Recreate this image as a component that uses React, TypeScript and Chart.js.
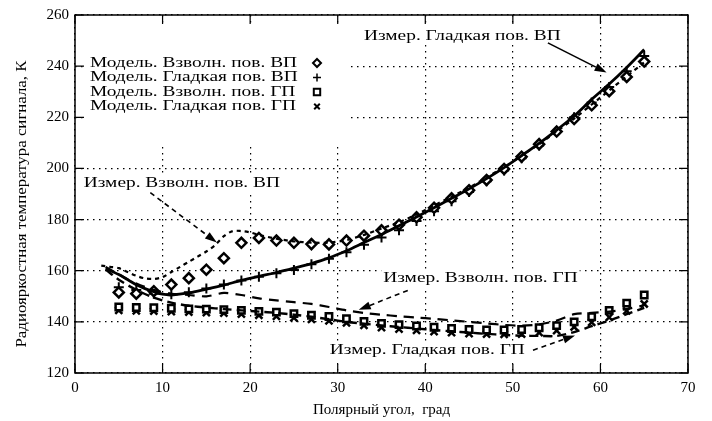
import React, { useEffect, useRef } from 'react';
import { Chart, registerables } from 'chart.js';

Chart.register(...registerables);

const FONT = '"Liberation Serif", "Times New Roman", serif';

// ---------- data ----------
const modelX = [5, 7, 9, 11, 13, 15, 17, 19, 21, 23, 25, 27, 29, 31, 33, 35, 37, 39, 41, 43, 45, 47, 49, 51, 53, 55, 57, 59, 61, 63, 65];
const modelRoughVP = [151.5, 151, 152, 154.6, 157.1, 160.4, 164.9, 170.9, 172.8, 171.8, 170.9, 170.4, 170.3, 171.8, 173.7, 175.8, 178, 180.9, 184.6, 188.3, 191.5, 195.5, 199.8, 204.6, 209.5, 214.4, 219.3, 224.7, 230.2, 235.8, 241.8];
const modelSmoothVP = [153.5, 152.5, 151, 150.8, 151.6, 153, 154.6, 156.2, 157.6, 159, 160.3, 162.5, 164.7, 167.2, 170.2, 173, 175.8, 179.4, 183.3, 187.2, 190.8, 195, 199.2, 204, 209, 214.5, 220, 225.8, 231.8, 238, 244];
const modelRoughGP = [145.8, 145.6, 145.5, 145.3, 145.1, 145, 144.8, 144.5, 144.1, 143.8, 143.2, 142.6, 142.1, 141.2, 140.2, 139.4, 138.9, 138.4, 137.9, 137.4, 137, 136.8, 136.8, 137, 137.7, 138.5, 140, 142, 144.5, 147.3, 150.5];
const modelSmoothGP = [144.5, 144.3, 144.2, 144, 143.8, 143.6, 143.4, 143, 142.6, 142.2, 141.6, 141, 140.4, 139.6, 138.6, 137.8, 137.2, 136.7, 136.2, 135.8, 135.4, 135.2, 135.1, 135.2, 135.8, 136.6, 138, 139.8, 141.8, 144.3, 147];

const measRoughVPx = [3, 4, 5, 6, 7, 8, 9, 10, 11, 12, 13, 14, 15, 16, 17, 18, 19, 20, 21, 23, 25, 27, 29, 31, 33, 35, 37, 39, 41, 43, 45, 47, 49, 51, 53, 55, 57, 59, 61, 63, 65];
const measRoughVPy = [162, 161.5, 161, 159.5, 158, 157, 156.8, 157.5, 159.5, 161.5, 163.5, 165.5, 167.5, 170, 173.5, 175.5, 175.5, 175, 174, 172.5, 171.5, 171, 171, 172, 174, 176.5, 179, 182, 185.5, 189, 192.5, 196.5, 200.5, 205, 209.5, 214.5, 219.5, 225, 230.5, 236, 241.5];

const measSmoothVPx = [3.5, 5, 6, 7, 8, 9, 10, 11, 13, 15, 17, 19, 21, 23, 25, 27, 29, 31, 33, 35, 37, 39, 41, 43, 45, 47, 49, 51, 53, 55, 57, 59, 61, 63, 65];
const measSmoothVPy = [161, 158.5, 156.5, 154.5, 153, 151.8, 150.8, 150.5, 151.3, 152.8, 154.4, 156.2, 157.8, 159.3, 161, 162.8, 165, 167.8, 171, 174.2, 177.6, 181, 184.6, 188.3, 192, 196, 200.3, 205, 209.8, 215, 220.5, 227, 233, 239.5, 246.5];

const measRoughGPx = [3.5, 5, 7, 9, 11, 13, 15, 17, 19, 21, 23, 25, 27, 29, 31, 33, 35, 37, 39, 41, 43, 45, 47, 49, 51, 53, 55, 57, 59, 61, 63, 65];
const measRoughGPy = [161.5, 158.5, 155, 152.5, 151, 150.5, 150, 151.3, 150.5, 149.2, 148.4, 147.7, 147, 145.8, 144.5, 143.5, 142.8, 142.2, 141.7, 141.2, 140.6, 140, 139.4, 138.8, 138.5, 139, 140.5, 143, 143.5, 144, 145, 146.5];

const measSmoothGPx = [3.5, 5, 7, 9, 11, 13, 15, 17, 19, 21, 23, 25, 27, 29, 31, 33, 35, 37, 39, 41, 43, 45, 47, 49, 51, 53, 55, 57, 59, 61, 63, 65];
const measSmoothGPy = [160.5, 156.5, 152.5, 149.5, 147.5, 146.3, 145.6, 145, 144.5, 144, 143.5, 142.8, 142, 141, 140, 139.3, 138.6, 138, 137.4, 136.8, 136.3, 135.8, 135.3, 134.9, 134.6, 134.5, 134.5, 136, 138.3, 140.5, 143, 145.5];

const legendLabels = ['Модель. Взволн. пов. ВП', 'Модель. Гладкая пов. ВП', 'Модель. Взволн. пов. ГП', 'Модель. Гладкая пов. ГП'];
const legendStyles = ['rectRot', 'cross', 'rect', 'crossRot'];

// annotations: text anchor (left, middle) and arrow from -> to, in data units
const annTexts = ['Измер. Гладкая пов. ВП', 'Измер. Взволн. пов. ВП', 'Измер. Взволн. пов. ГП', 'Измер. Гладкая пов. ГП'];
const annTextX = [33.0, 1.0, 35.2, 29.1];
const annTextY = [251.8, 194.4, 157.0, 128.9];
const annFromX = [54.0, 8.6, 38.0, 52.3];
const annFromY = [249.1, 190.5, 152.3, 128.9];
const annToX = [60.7, 16.2, 32.4, 57.1];
const annToY = [237.5, 171.0, 144.7, 134.7];
const annDashed = [false, true, true, true];

const xTitle = 'Полярный угол,  град';
const yTitle = 'Радиояркостная температура сигнала, К';

const zip = (xs: number[], ys: number[]) => xs.map((x, i) => ({ x, y: ys[i] }));

function stretchedText(ctx: CanvasRenderingContext2D, text: string, x: number, y: number, s: number) {
  ctx.save();
  ctx.translate(x, y);
  ctx.scale(s, 1);
  ctx.fillText(text, 0, 0);
  ctx.restore();
}

function drawMarker(ctx: CanvasRenderingContext2D, style: string, cx: number, cy: number, r: number) {
  ctx.save();
  ctx.strokeStyle = '#000';
  ctx.fillStyle = '#fff';
  ctx.lineWidth = 2;
  ctx.beginPath();
  if (style === 'rectRot') {
    ctx.moveTo(cx, cy - r); ctx.lineTo(cx + r, cy); ctx.lineTo(cx, cy + r); ctx.lineTo(cx - r, cy); ctx.closePath();
    ctx.fill(); ctx.stroke();
  } else if (style === 'rect') {
    ctx.rect(cx - r * 0.8, cy - r * 0.8, r * 1.6, r * 1.6);
    ctx.fill(); ctx.stroke();
  } else if (style === 'cross') {
    ctx.lineWidth = 1.5;
    ctx.moveTo(cx - r, cy); ctx.lineTo(cx + r, cy); ctx.moveTo(cx, cy - r); ctx.lineTo(cx, cy + r);
    ctx.stroke();
  } else {
    ctx.moveTo(cx - r * 0.7, cy - r * 0.7); ctx.lineTo(cx + r * 0.7, cy + r * 0.7);
    ctx.moveTo(cx + r * 0.7, cy - r * 0.7); ctx.lineTo(cx - r * 0.7, cy + r * 0.7);
    ctx.stroke();
  }
  ctx.restore();
}

const decor = {
  id: 'decor',
  beforeDatasetsDraw(chart: any) {
    const { ctx, chartArea: ca, scales } = chart;
    const xs = scales.x, ys = scales.y;
    ctx.save();
    ctx.font = `15px ${FONT}`;
    const s = 195 / ctx.measureText('Измер. Гладкая пов. ГП').width;
    // y axis title (stretched along its direction)
    ctx.save();
    ctx.fillStyle = '#000';
    ctx.textAlign = 'center';
    ctx.textBaseline = 'middle';
    ctx.translate(22, (ca.top + ca.bottom) / 2 + 10);
    ctx.rotate(-Math.PI / 2);
    ctx.scale(287 / ctx.measureText(yTitle).width, 1);
    ctx.fillText(yTitle, 0, 0);
    ctx.restore();
    // legend box (hides grid)
    ctx.fillStyle = '#fff';
    ctx.fillRect(ca.left + 12, ca.top + 11, 260, 117);
    ctx.textBaseline = 'middle';
    ctx.textAlign = 'left';
    ctx.fillStyle = '#000';
    legendLabels.forEach((t, i) => {
      const yy = ca.top + 48 + i * 14.5;
      stretchedText(ctx, t, ca.left + 15, yy, s);
      drawMarker(ctx, legendStyles[i], ca.left + 242, yy, 4);
    });
    // annotation texts with white background
    annTexts.forEach((t, i) => {
      const px = xs.getPixelForValue(annTextX[i]);
      const py = ys.getPixelForValue(annTextY[i]);
      const w = ctx.measureText(t).width * s;
      ctx.fillStyle = '#fff';
      ctx.fillRect(px - 2, py - 9, w + 4, 18);
      ctx.fillStyle = '#000';
      stretchedText(ctx, t, px, py, s);
    });
    ctx.restore();
  },
  afterDatasetsDraw(chart: any) {
    const { ctx, scales } = chart;
    const xs = scales.x, ys = scales.y;
    ctx.save();
    annTexts.forEach((_, i) => {
      const x1 = xs.getPixelForValue(annFromX[i]);
      const y1 = ys.getPixelForValue(annFromY[i]);
      const x2 = xs.getPixelForValue(annToX[i]);
      const y2 = ys.getPixelForValue(annToY[i]);
      const ang = Math.atan2(y2 - y1, x2 - x1);
      const hl = 12, hw = 4;
      const bx = x2 - hl * Math.cos(ang), by = y2 - hl * Math.sin(ang);
      ctx.strokeStyle = '#000';
      ctx.lineWidth = 1.6;
      ctx.setLineDash(annDashed[i] ? [5, 4] : []);
      ctx.beginPath();
      ctx.moveTo(x1, y1);
      ctx.lineTo(bx, by);
      ctx.stroke();
      ctx.setLineDash([]);
      ctx.fillStyle = '#000';
      ctx.beginPath();
      ctx.moveTo(x2, y2);
      ctx.lineTo(bx + hw * Math.sin(ang), by - hw * Math.cos(ang));
      ctx.lineTo(bx - hw * Math.sin(ang), by + hw * Math.cos(ang));
      ctx.closePath();
      ctx.fill();
    });
    ctx.restore();
  },
  afterDraw(chart: any) {
    const { ctx, chartArea: ca, scales } = chart;
    ctx.save();
    ctx.strokeStyle = '#000';
    ctx.lineWidth = 1.5;
    ctx.setLineDash([]);
    ctx.strokeRect(ca.left, ca.top, ca.right - ca.left, ca.bottom - ca.top);
    ctx.lineWidth = 1.2;
    ctx.beginPath();
    scales.x.ticks.forEach((t: any) => {
      const p = scales.x.getPixelForValue(t.value);
      ctx.moveTo(p, ca.bottom); ctx.lineTo(p, ca.bottom - 9);
      ctx.moveTo(p, ca.top); ctx.lineTo(p, ca.top + 9);
    });
    scales.y.ticks.forEach((t: any) => {
      const p = scales.y.getPixelForValue(t.value);
      ctx.moveTo(ca.left, p); ctx.lineTo(ca.left + 9, p);
      ctx.moveTo(ca.right, p); ctx.lineTo(ca.right - 9, p);
    });
    ctx.stroke();
    ctx.restore();
  },
};

export default function App() {
  const ref = useRef<HTMLCanvasElement>(null);
  useEffect(() => {
    const canvas = ref.current!;
    const markerDs = (label: string, ys: number[], style: string, radius: number, bw: number) => ({
      label,
      data: zip(modelX, ys),
      showLine: false,
      pointStyle: style,
      pointRadius: radius,
      pointBorderWidth: bw,
      pointBackgroundColor: '#fff',
      pointBorderColor: '#000',
      borderColor: '#000',
      backgroundColor: '#fff',
    });
    const lineDs = (label: string, xs: number[], ys: number[], dash: number[], width: number) => ({
      label,
      data: zip(xs, ys),
      showLine: true,
      pointRadius: 0,
      borderColor: '#000',
      borderWidth: width,
      borderDash: dash,
      tension: 0.3,
      fill: false,
    });
    const chart = new Chart(canvas, {
      type: 'scatter',
      data: {
        datasets: [
          lineDs('Измер. Гладкая пов. ВП', measSmoothVPx, measSmoothVPy, [], 2.8),
          lineDs('Измер. Взволн. пов. ВП', measRoughVPx, measRoughVPy, [4, 4], 2.2),
          lineDs('Измер. Взволн. пов. ГП', measRoughGPx, measRoughGPy, [10, 7], 2.2),
          lineDs('Измер. Гладкая пов. ГП', measSmoothGPx, measSmoothGPy, [9, 5], 2.4),
          markerDs(legendLabels[0], modelRoughVP, 'rectRot', 5, 2.5),
          markerDs(legendLabels[1], modelSmoothVP, 'cross', 5, 2),
          markerDs(legendLabels[2], modelRoughGP, 'rect', 4.5, 2.5),
          markerDs(legendLabels[3], modelSmoothGP, 'crossRot', 5, 2.5),
        ] as any,
      },
      options: {
        animation: false,
        responsive: false,
        devicePixelRatio: 1,
        layout: { padding: { left: 0, top: 14, right: 24, bottom: 0 } },
        plugins: { legend: { display: false }, tooltip: { enabled: false } },
        scales: {
          x: {
            type: 'linear',
            min: 0,
            max: 70,
            afterFit: (s: any) => { s.height = 48; },
            ticks: { stepSize: 10, color: '#000', font: { family: FONT, size: 15 }, padding: 6 },
            grid: { color: '#000', lineWidth: 1.2, drawTicks: false },
            border: { display: false, dash: [1.5, 4.5] },
            title: { display: true, text: xTitle, color: '#000', font: { family: FONT, size: 15 }, padding: { top: 0, bottom: 2 } },
          },
          y: {
            type: 'linear',
            min: 120,
            max: 260,
            afterFit: (s: any) => { s.width = 75; },
            ticks: { stepSize: 20, color: '#000', font: { family: FONT, size: 15 }, padding: 6 },
            grid: { color: '#000', lineWidth: 1.2, drawTicks: false },
            border: { display: false, dash: [1.5, 4.5] },
            title: { display: false },
          },
        },
      },
      plugins: [decor],
    } as any);
    return () => chart.destroy();
  }, []);
  return (
    <div style={{ position: 'fixed', left: 0, top: 0, width: 712, height: 421, background: '#fff' }}>
      <canvas ref={ref} width={712} height={421} />
    </div>
  );
}
